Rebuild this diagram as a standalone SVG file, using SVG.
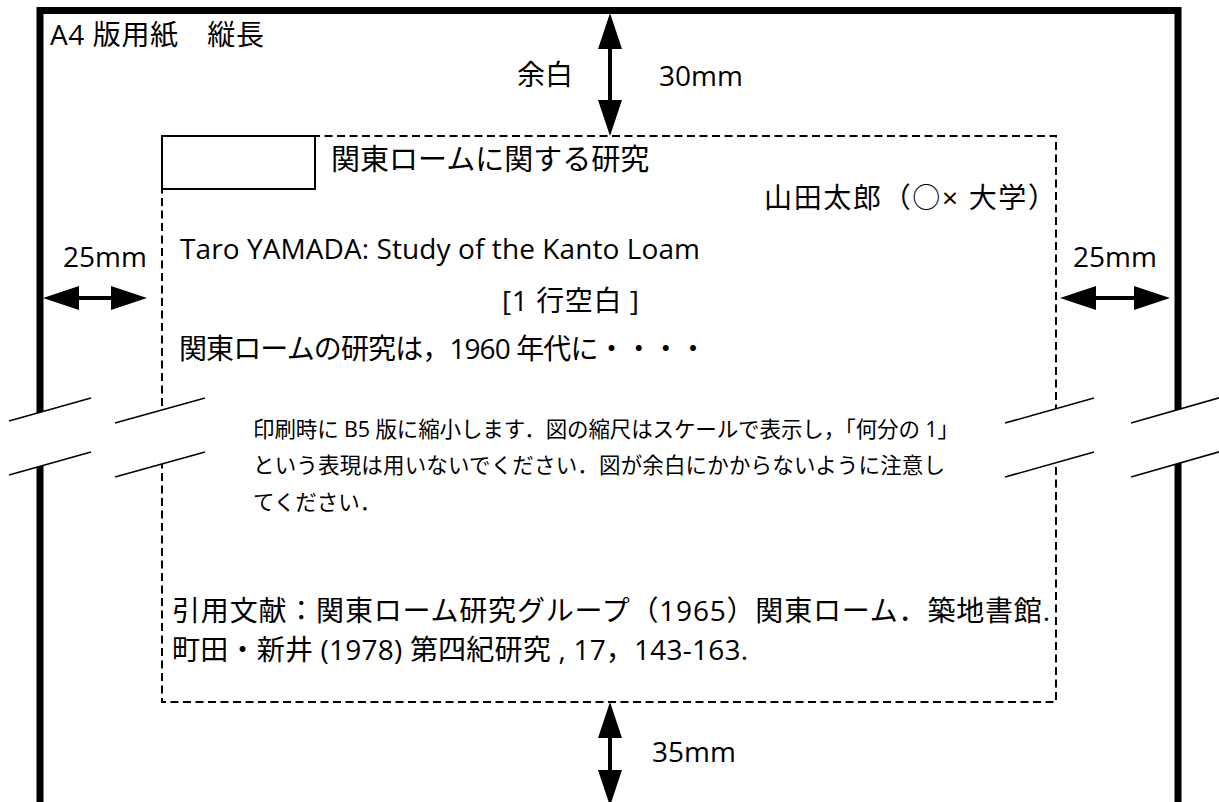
<svg xmlns="http://www.w3.org/2000/svg" width="1219" height="802" viewBox="0 0 1219 802">
<style>
text{font-family:"Open Sans","Noto Sans CJK JP",sans-serif;fill:#000}
.m{font-size:28px}
.t{font-size:29px}
.n{font-size:21.5px}
.dim{stroke:#000;stroke-width:4;fill:none;marker-start:url(#ah);marker-end:url(#ah)}
.brk{stroke:#000;stroke-width:1.5;fill:none}
.band{fill:#fff;stroke:none}
</style>
<defs>
<marker id="ah" markerUnits="userSpaceOnUse" markerWidth="36" markerHeight="24" viewBox="0 0 36 24" refX="0" refY="12" orient="auto-start-reverse">
<path d="M0,0 L36,12 L0,24 Z" fill="#000"/>
</marker>
</defs>
<rect x="0" y="0" width="1219" height="802" fill="#fff"/>

<g id="page">
<path d="M40,810 V10.5 H1178 V810" fill="none" stroke="#000" stroke-width="7" stroke-linejoin="miter"/>
<text class="m" x="50" y="45" textLength="214">A4 版用紙　縦長</text>
</g>

<g id="text-area">
<rect x="162" y="136" width="894" height="566" fill="none" stroke="#000" stroke-width="2" stroke-dasharray="8 4.5"/>
</g>

<g id="breaks">
<polygon class="band" points="9,421 91,398 91,452 9,475"/>
<polygon class="band" points="115,423 205,398 205,452 115,477"/>
<polygon class="band" points="1005,423 1094,398 1094,452 1005,477"/>
<polygon class="band" points="1131,423 1222,397 1222,451 1131,477"/>
<path class="brk" d="M9,421 L91,398 M9,475 L91,452 M115,423 L205,398 M115,477 L205,452 M1005,423 L1094,398 M1005,477 L1094,452 M1131,423 L1222,397 M1131,477 L1222,451"/>
</g>

<g id="title-box">
<rect x="162" y="136" width="153" height="53" fill="#fff" stroke="#000" stroke-width="2"/>
</g>

<g id="title">
<text class="t" x="331" y="170">関東ロームに関する研究</text>
</g>

<g id="author">
<text class="m" x="764" y="208" textLength="292">山田太郎（○× 大学）</text>
</g>

<g id="english-title">
<text class="m" x="180" y="259" textLength="520">Taro YAMADA: Study of the Kanto Loam</text>
</g>

<g id="blank-line">
<text class="m" x="502" y="311" textLength="137">[1 行空白 ]</text>
</g>

<g id="body">
<text class="m" x="179" y="359" textLength="528">関東ロームの研究は，1960 年代に・・・・</text>
</g>

<g id="note">
<text class="n" x="253" y="437" textLength="706">印刷時に B5 版に縮小します．図の縮尺はスケールで表示し，「何分の 1」</text>
<text class="n" x="253" y="473" textLength="692">という表現は用いないでください．図が余白にかからないように注意し</text>
<text class="n" x="253" y="510">てください．</text>
</g>

<g id="references">
<text class="m" x="172" y="621" textLength="878">引用文献：関東ローム研究グループ（1965）関東ローム．築地書館.</text>
<text class="m" x="172" y="660" textLength="576">町田・新井 (1978) 第四紀研究 , 17，143-163.</text>
</g>

<g id="labels">
<text class="m" x="517" y="85">余白</text>
<text class="m" x="659" y="86">30mm</text>
<text class="m" x="63" y="267">25mm</text>
<text class="m" x="1073" y="267">25mm</text>
<text class="m" x="652" y="762">35mm</text>
</g>

<g id="connectors">
<line class="dim" x1="610" y1="49" x2="610" y2="100"/>
<line class="dim" x1="610" y1="738" x2="610" y2="770"/>
<line class="dim" x1="79" y1="298" x2="111" y2="298"/>
<line class="dim" x1="1096" y1="298" x2="1134" y2="298"/>
</g>
</svg>
